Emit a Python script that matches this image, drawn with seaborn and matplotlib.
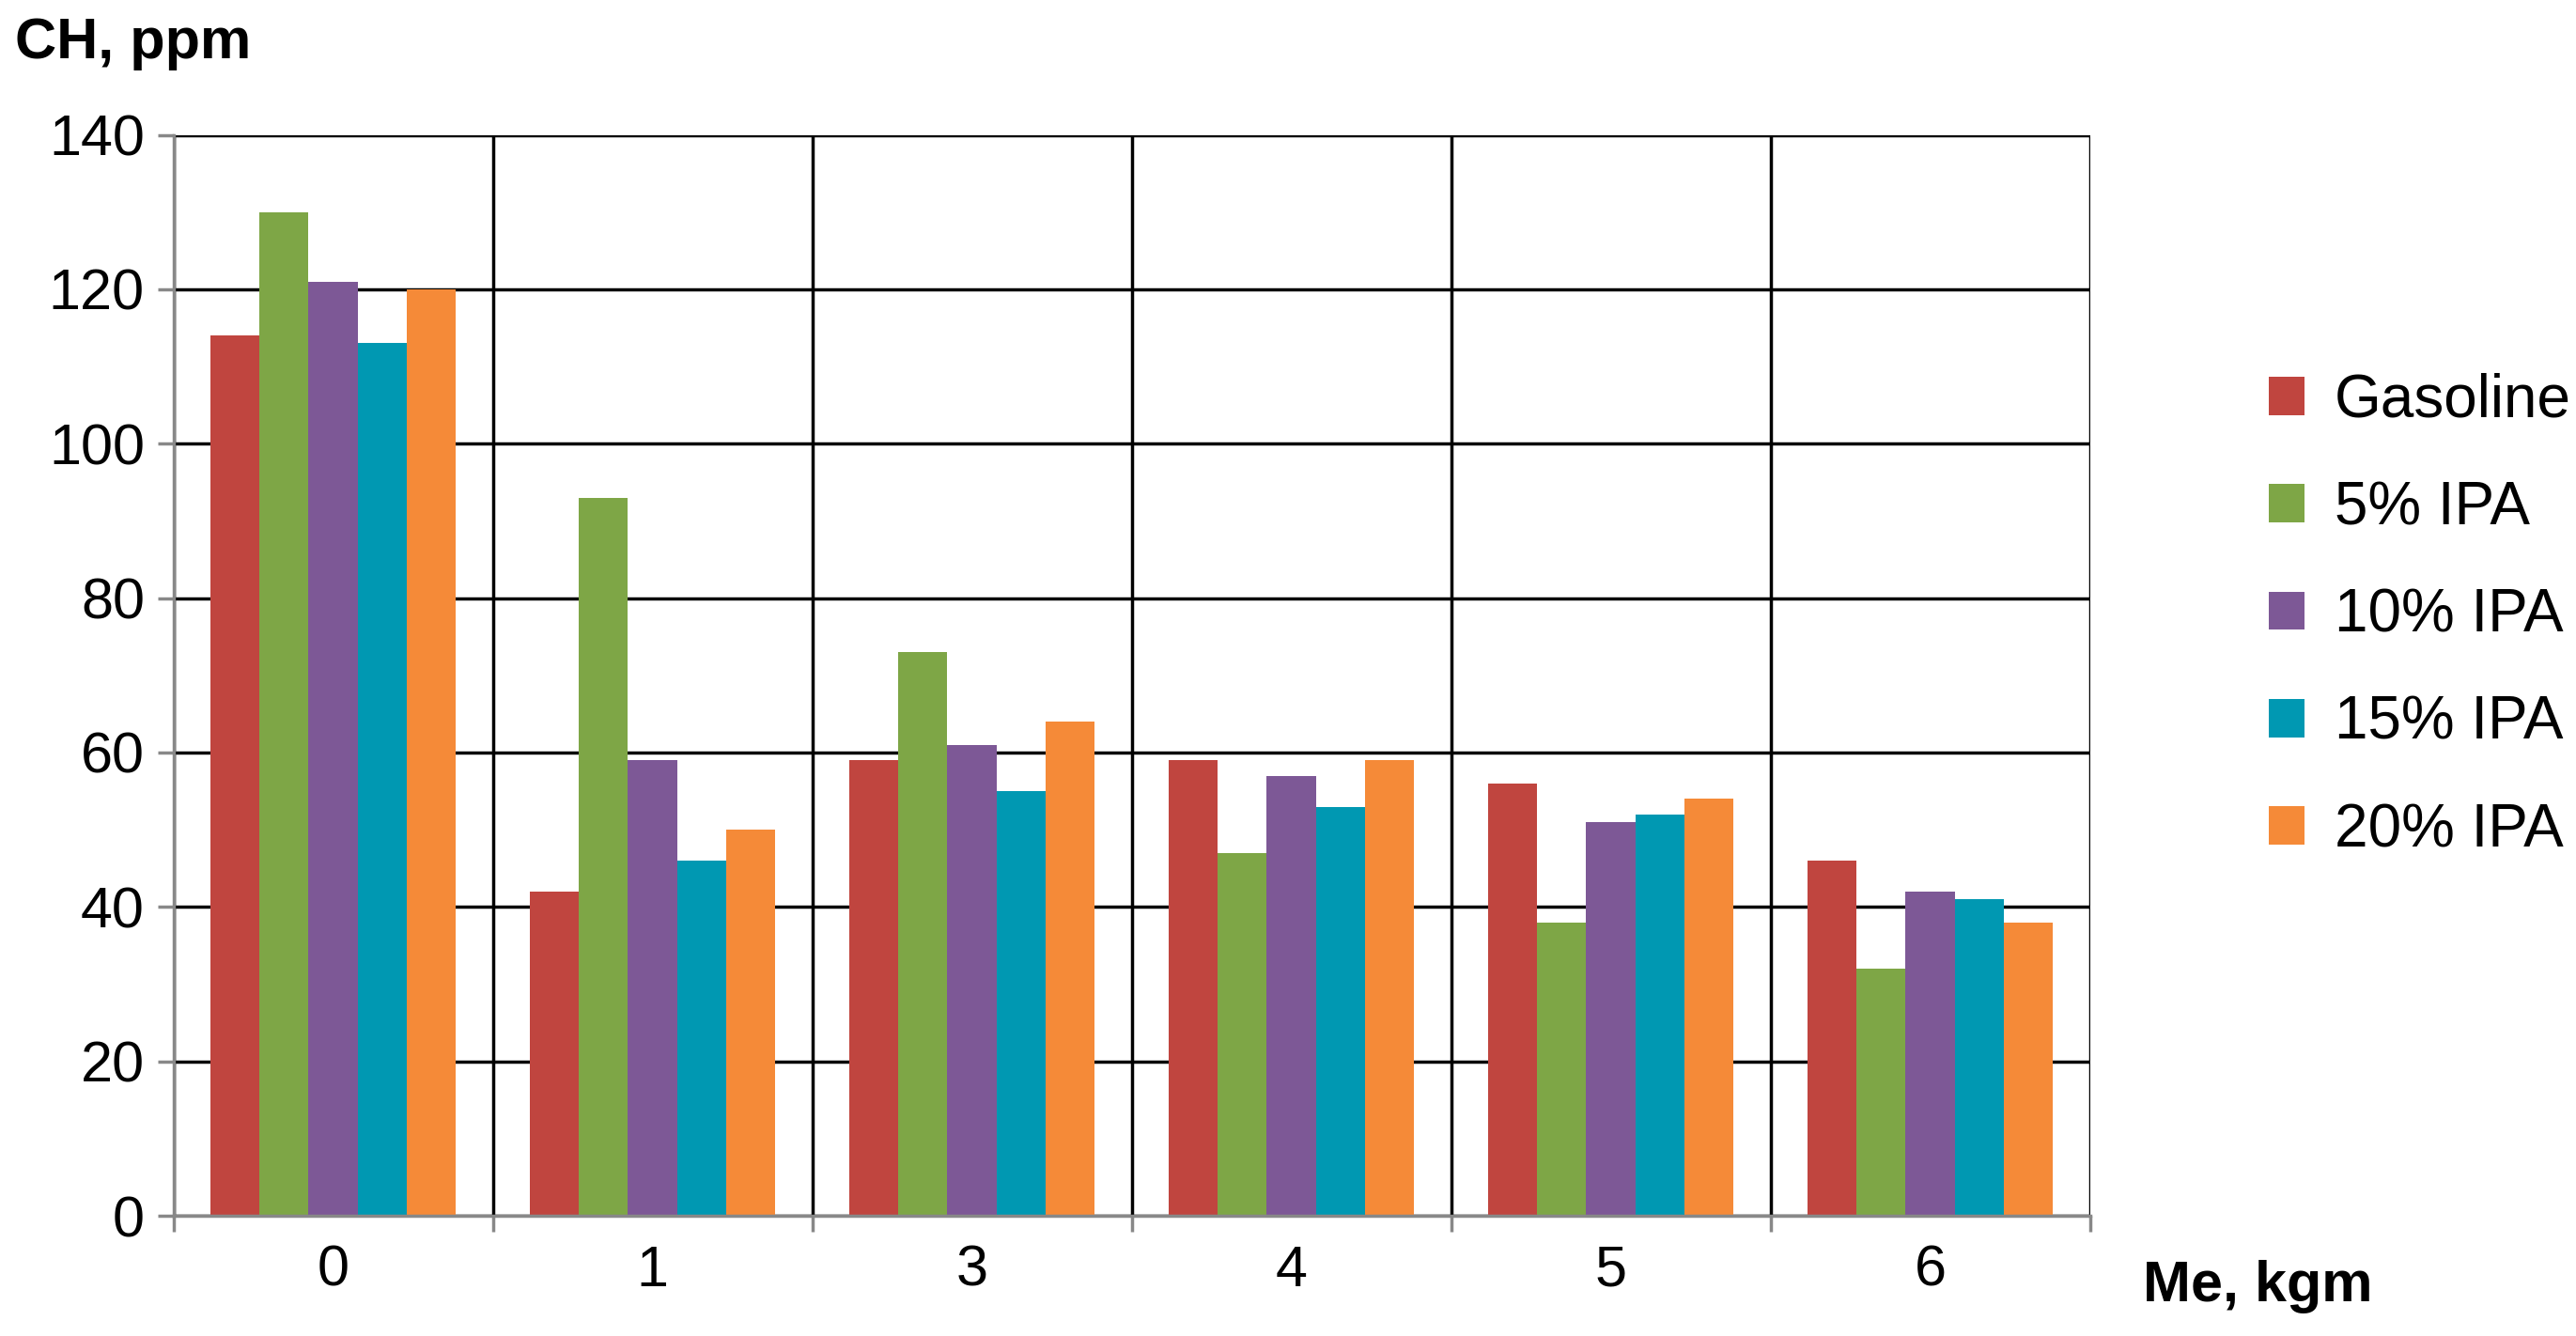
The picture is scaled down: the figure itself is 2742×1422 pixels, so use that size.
import matplotlib
matplotlib.use("Agg")
import matplotlib.pyplot as plt
import seaborn as sns
import pandas as pd
import numpy as np

categories = ["0", "1", "3", "4", "5", "6"]
series = ["Gasoline", "5% IPA", "10% IPA", "15% IPA", "20% IPA"]
gasoline = [114, 42, 59, 59, 56, 46]
ipa5 = [130, 93, 73, 47, 38, 32]
ipa10 = [121, 59, 61, 57, 51, 42]
ipa15 = [113, 46, 55, 53, 52, 41]
ipa20 = [120, 50, 64, 59, 54, 38]
colors = ["#C0453F", "#7EA646", "#7D5896", "#0098B2", "#F58A38"]

rows = []
for name, vals in zip(series, [gasoline, ipa5, ipa10, ipa15, ipa20]):
    for c, v in zip(categories, vals):
        rows.append({"cat": c, "series": name, "val": v})
df = pd.DataFrame(rows)

sns.set_theme(style="white")
plt.rcParams['font.family'] = ['Liberation Sans', 'DejaVu Sans']
fig = plt.figure(figsize=(27.42, 14.22), dpi=100)
ax = fig.add_axes([0.0673, 0.090, 0.744, 0.809])
sns.barplot(data=df, x="cat", y="val", hue="series", palette=colors,
            order=categories, hue_order=series, width=0.77, saturation=1,
            ax=ax, edgecolor="none", legend=True)
ax.set_ylim(0, 140)
ax.set_xlim(-0.5, 5.5)
ax.set_yticks(np.arange(0, 141, 20))
ax.set_xticks(np.arange(-0.5, 5.6, 1), minor=True)
ax.grid(True, axis="y", color="black", linewidth=2.5)
ax.grid(True, axis="x", which="minor", color="black", linewidth=2.5)
ax.grid(False, axis="x", which="major")
ax.set_axisbelow(True)
for s in ["top", "right"]:
    ax.spines[s].set_visible(False)
for s in ["left", "bottom"]:
    ax.spines[s].set_color("#888888")
    ax.spines[s].set_linewidth(2.5)
ax.tick_params(axis="y", labelsize=44, labelcolor="black", length=12, width=2.5, color="#888888", left=True, pad=10)
ax.tick_params(axis="x", which="major", labelsize=44, labelcolor="black", length=0, pad=22)
ax.tick_params(axis="x", which="minor", length=12, width=2.5, color="#888888", bottom=True)
ax.set_xlabel("")
ax.set_ylabel("")
fig.text(0.006, 0.967, "CH, ppm", fontsize=44, fontweight="bold", va="center", ha="left", color="black")
fig.text(0.832, 0.037, "Me, kgm", fontsize=44, fontweight="bold", va="center", ha="left", color="black")
h, l = ax.get_legend_handles_labels()
ax.legend(h, l, loc="center left", bbox_to_anchor=(1.065, 0.555), frameon=False,
          fontsize=46, handlelength=0.6, handleheight=0.6, handletextpad=0.5,
          labelspacing=0.85, labelcolor="black")
fig.savefig("out.png", dpi=100)
